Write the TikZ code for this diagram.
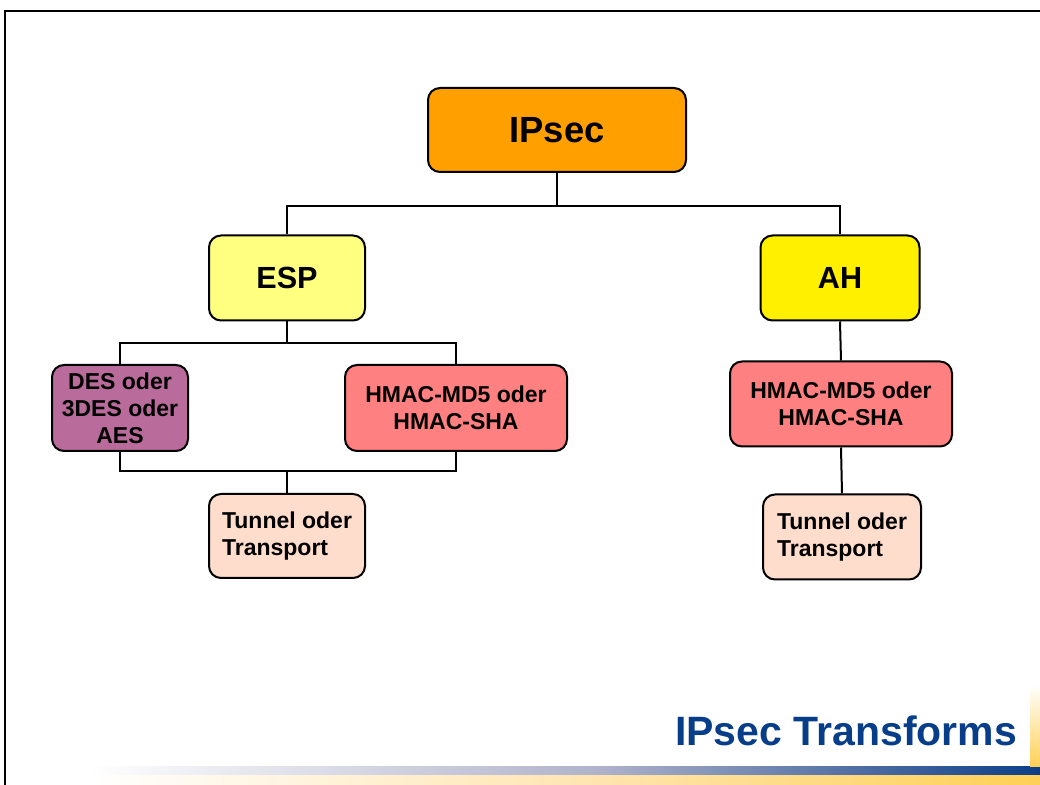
\documentclass[tikz,border=0pt]{standalone}
\usepackage{fontspec}
\setmainfont{Liberation Sans}
\definecolor{orangebox}{RGB}{255,160,0}
\definecolor{espyellow}{RGB}{255,255,128}
\definecolor{ahyellow}{RGB}{255,240,0}
\definecolor{despurple}{RGB}{185,108,155}
\definecolor{hmacred}{RGB}{255,128,128}
\definecolor{tunpeach}{RGB}{255,221,204}
\definecolor{titleblue}{RGB}{8,62,137}
\definecolor{barblue}{RGB}{12,62,135}
\definecolor{baryellow}{RGB}{255,208,85}
\begin{document}
\begin{tikzpicture}[x=.5pt,y=-.5pt,line width=1pt,
box/.style={draw,rounded corners=6pt,font=\bfseries,align=center,inner sep=2pt},
small/.style={font=\fontsize{11.5}{13.5}\selectfont\bfseries}]
\useasboundingbox(0,0)rectangle(1040,785);
\draw[line width=1.3pt](5,785)--(5,11)--(1040,11);
\shade[left color=white,right color={rgb,255:red,175;green,178;blue,202}](90,767)rectangle(600,776);
\shade[left color={rgb,255:red,175;green,178;blue,202},right color=barblue](600,767)rectangle(1040,776);
\shade[left color=white,right color={rgb,255:red,255;green,228;blue,175}](90,776)rectangle(600,785);
\shade[left color={rgb,255:red,255;green,228;blue,175},right color=baryellow](600,776)rectangle(1040,785);
\shade[top color=white,bottom color=baryellow](1030,685)rectangle(1040,767);
\node[box,fill=orangebox,minimum width=129pt,minimum height=42pt,font=\fontsize{18.2}{20}\selectfont\bfseries](ipsec)at(557,130){IPsec};
\node[box,fill=espyellow,minimum width=78pt,minimum height=42.5pt,font=\fontsize{15.3}{17}\selectfont\bfseries](esp)at(287,278){ESP};
\node[box,fill=ahyellow,minimum width=79.5pt,minimum height=42.5pt,font=\fontsize{15.3}{17}\selectfont\bfseries](ah)at(840,278){AH};
\node[box,small,fill=despurple,minimum width=68pt,minimum height=43pt](des)at(120,408){DES oder\\3DES oder\\AES};
\node[box,small,fill=hmacred,minimum width=111pt,minimum height=43pt](hmacl)at(456,408){HMAC-MD5 oder\\HMAC-SHA};
\node[box,small,fill=hmacred,minimum width=111pt,minimum height=42.5pt](hmacr)at(841,404){HMAC-MD5 oder\\HMAC-SHA};
\node[box,small,fill=tunpeach,minimum width=78pt,minimum height=42pt,align=left](tunl)at(287,536){Tunnel oder\\Transport};
\node[box,small,fill=tunpeach,minimum width=79pt,minimum height=42.5pt,align=left](tunr)at(842,537){Tunnel oder\\Transport};
\draw(ipsec.south)--++(0,33)coordinate(t1)-|(esp.north);
\draw(t1)-|(ah.north);
\draw(esp.south)--++(0,22)coordinate(t2)-|(des.north);
\draw(t2)-|(hmacl.north);
\draw(des.south)--++(0,19)coordinate(b2)-|(hmacl.south);
\draw(tunl.north)--(tunl.north|-b2);
\draw(ah.south)--(hmacr.north);
\draw(hmacr.south)--(tunr.north);
\node[anchor=base east,inner sep=0pt,text=titleblue,font=\fontsize{20.5}{24}\selectfont\bfseries](title)at(1018,746){IPsec Transforms};
\end{tikzpicture}
\end{document}
